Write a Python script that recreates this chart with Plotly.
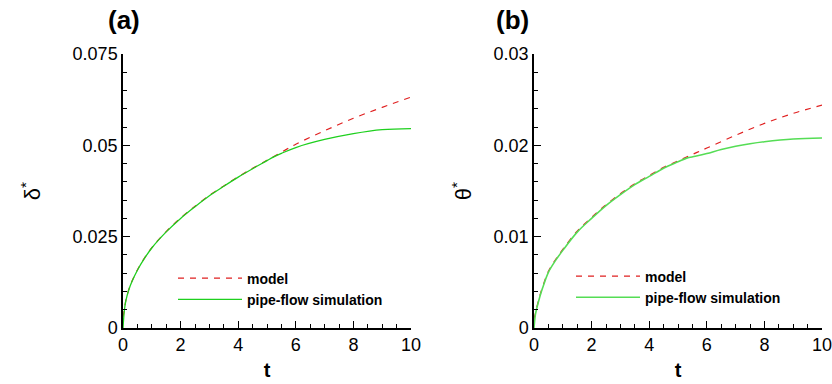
import plotly.graph_objects as go

t_model = [0, 0.05, 0.1, 0.2, 0.3, 0.5, 0.75, 1, 1.5, 2, 2.5, 3, 3.5, 4, 4.5, 5, 5.5, 6, 7, 8, 9, 10]
delta_model = [0.003, 0.0052, 0.0076, 0.0105, 0.0126, 0.0159, 0.0192, 0.0220, 0.0264, 0.0301, 0.0333,
               0.0363, 0.0389, 0.0414, 0.0437, 0.0459, 0.0481, 0.0503, 0.0540, 0.0574, 0.0604, 0.0632]
t_sim_a = [0, 0.05, 0.1, 0.2, 0.3, 0.5, 0.75, 1, 1.5, 2, 2.5, 3, 3.5, 4, 4.5, 5, 5.2, 5.5, 6, 7, 8, 9, 10]
delta_sim = [0, 0.0050, 0.0075, 0.0104, 0.0125, 0.0158, 0.0191, 0.0219, 0.0263, 0.0300, 0.0332,
             0.0362, 0.0388, 0.0413, 0.0436, 0.0458, 0.0467, 0.0478, 0.0494, 0.0516, 0.0532, 0.0543, 0.0546]

theta_model = [0.001, 0.0016, 0.0023, 0.0035, 0.0045, 0.0062, 0.0075, 0.0086, 0.0106, 0.0121, 0.0135,
               0.0147, 0.0158, 0.0167, 0.0176, 0.0183, 0.0190, 0.0197, 0.0211, 0.0224, 0.0235, 0.0244]
t_sim_b = [0, 0.05, 0.1, 0.2, 0.3, 0.5, 0.75, 1, 1.5, 2, 2.5, 3, 3.5, 4, 4.5, 5, 5.3, 5.6, 6, 6.5, 7, 7.5,
           8, 9, 10]
theta_sim = [0, 0.0015, 0.0022, 0.0034, 0.0044, 0.0061, 0.0074, 0.0085, 0.0105, 0.0120, 0.0134,
             0.0146, 0.0157, 0.0166, 0.0175, 0.0182, 0.0186, 0.0188, 0.0191, 0.01955, 0.0199, 0.02018,
             0.0204, 0.0207, 0.0208]

x_ticks = [0, 2, 4, 6, 8, 10]
ya_ticks = [0, 0.025, 0.05, 0.075]
ya_labels = ["0", "0.025", "0.05", "0.075"]
yb_ticks = [0, 0.01, 0.02, 0.03]
yb_labels = ["0", "0.01", "0.02", "0.03"]

RED = "#e02020"
GREEN_A = "#1ed01e"
GREEN_B = "#55dd55"
FONT = "Liberation Sans, Arial, sans-serif"

fig = go.Figure()
fig.add_trace(go.Scatter(x=t_model, y=delta_model, mode="lines", name="<b>model</b>",
                         line=dict(color=RED, width=1.2, dash="6px,6px"), line_shape="spline",
                         xaxis="x", yaxis="y", legend="legend"))
fig.add_trace(go.Scatter(x=t_sim_a, y=delta_sim, mode="lines", name="<b>pipe-flow simulation</b>",
                         line=dict(color=GREEN_A, width=1.3), line_shape="spline",
                         xaxis="x", yaxis="y", legend="legend"))
fig.add_trace(go.Scatter(x=t_model, y=theta_model, mode="lines", name="<b>model</b>",
                         line=dict(color=RED, width=1.2, dash="6px,6px"), line_shape="spline",
                         xaxis="x2", yaxis="y2", legend="legend2"))
fig.add_trace(go.Scatter(x=t_sim_b, y=theta_sim, mode="lines", name="<b>pipe-flow simulation</b>",
                         line=dict(color=GREEN_B, width=1.6), line_shape="spline",
                         xaxis="x2", yaxis="y2", legend="legend2"))

W, H = 832, 384
ydom = [(H - 328) / H, (H - 54) / H]

def xaxis(dom, anchor):
    return dict(domain=dom, anchor=anchor, range=[0, 10], tickvals=x_ticks, automargin=False,
                ticklabeloverflow="allow",
                showline=True, linecolor="black", linewidth=1.5, ticks="inside",
                ticklen=7, tickwidth=1.3, tickcolor="black", showgrid=False, zeroline=False,
                tickfont=dict(size=18, color="black", family=FONT),
                minor=dict(dtick=0.5, ticks="inside", ticklen=4, tickwidth=1, tickcolor="black", showgrid=False),
                title=dict(text="<b>t</b>", font=dict(size=20, color="black", family=FONT), standoff=9))

def yaxis(rng, vals, labels, anchor, title, dtick, standoff):
    return dict(domain=ydom, anchor=anchor, range=rng, tickvals=vals, ticktext=labels, automargin=False,
                ticklabeloverflow="allow",
                showline=True, linecolor="black", linewidth=1.5, ticks="inside",
                ticklen=7, tickwidth=1.3, tickcolor="black", showgrid=False, zeroline=False,
                tickfont=dict(size=18, color="black", family=FONT),
                minor=dict(dtick=dtick, ticks="inside", ticklen=4, tickwidth=1, tickcolor="black", showgrid=False),
                title=dict(text=title, font=dict(size=22, color="black", family=FONT), standoff=standoff))

fig.update_layout(
    width=W, height=H, margin=dict(l=0, r=0, t=0, b=0, autoexpand=False),
    paper_bgcolor="white", plot_bgcolor="white",
    font=dict(family=FONT, color="black"),
    xaxis=xaxis([123 / W, 411 / W], "y"),
    yaxis=yaxis([0, 0.075], ya_ticks, ya_labels, "x", "δ<sup>*</sup>", 0.005, 26),
    xaxis2=xaxis([534 / W, 822 / W], "y2"),
    yaxis2=yaxis([0, 0.03], yb_ticks, yb_labels, "x2", "θ<sup>*</sup>", 0.002, 16),
    legend=dict(x=173 / W, y=1 - 262.5 / H, xanchor="left", yanchor="top", bgcolor="rgba(0,0,0,0)",
                font=dict(size=14, color="black", family=FONT), tracegroupgap=0, itemwidth=64),
    legend2=dict(x=571 / W, y=1 - 260.5 / H, xanchor="left", yanchor="top", bgcolor="rgba(0,0,0,0)",
                 font=dict(size=14, color="black", family=FONT), tracegroupgap=0, itemwidth=64),
    showlegend=True,
    annotations=[
        dict(text="<b>(a)</b>", x=106 / W, y=1 - 20 / H, xref="paper", yref="paper", yanchor="middle",
             showarrow=False, font=dict(size=26, color="black", family=FONT)),
        dict(text="<b>(b)</b>", x=512 / W, y=1 - 20 / H, xref="paper", yref="paper", yanchor="middle",
             showarrow=False, font=dict(size=26, color="black", family=FONT)),
    ],
)
fig.write_html("out.html")
